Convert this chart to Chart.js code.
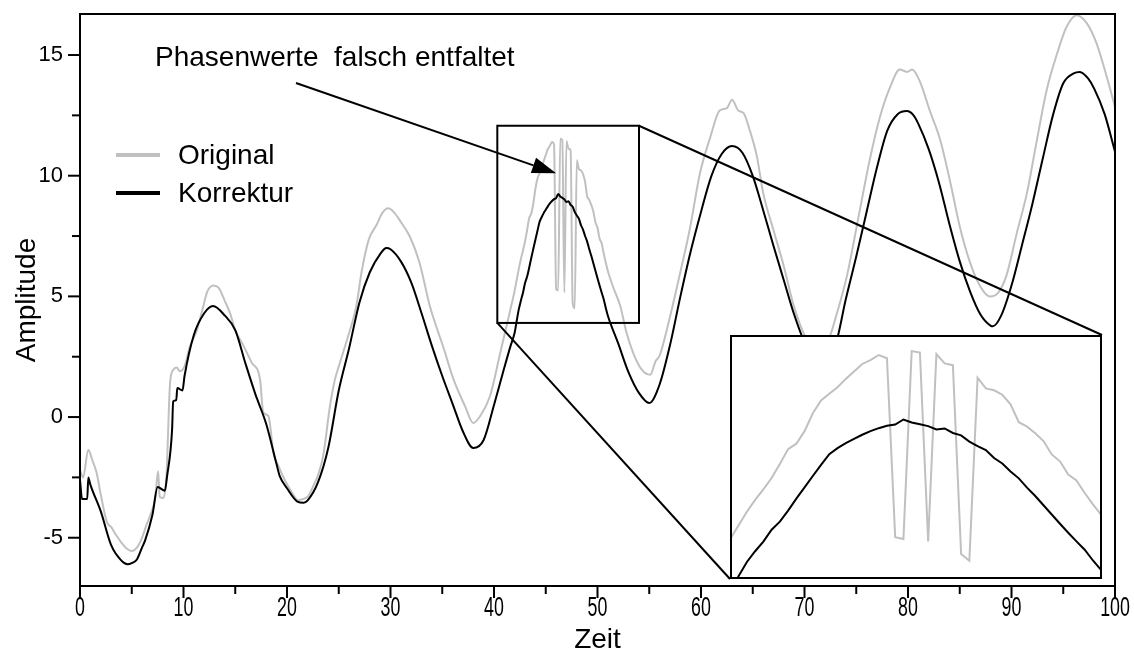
<!DOCTYPE html>
<html>
<head>
<meta charset="utf-8">
<script src="https://cdn.jsdelivr.net/npm/chart.js@4.4.1/dist/chart.umd.min.js"></script>
<style>
  html, body { margin: 0; padding: 0; background: #fff; }
  #wrap { position: relative; width: 1134px; height: 660px; }
  #mainChart { position: absolute; left: 0; top: 0; }
  #insetChart { position: absolute; background: #fff; }
</style>
</head>
<body>
<div id="wrap">
  <canvas id="mainChart" width="1134" height="660"></canvas>
  <canvas id="insetChart" width="372" height="244"></canvas>
</div>
<script>
// Korrektur (black): time / amplitude
const korrekturZeit = [0, 0.2, 0.7, 0.8, 1, 2, 3, 4, 4.6, 5, 5.5, 6, 6.3, 7, 7.5, 8.2, 8.4, 8.9, 9, 9.3, 9.4, 9.9, 10.1, 11, 12, 12.85,
  14, 15, 16, 17, 17.2, 18, 19, 19.3, 20, 21, 21.6, 22, 23, 24, 25, 26, 27, 28, 29, 29.6, 30, 31, 32, 33, 34, 35, 36, 37, 38, 39, 40, 41, 41.6,
  42, 42.2, 42.4, 42.6, 42.8, 43, 43.2, 43.4, 43.6, 43.8, 44, 44.2, 44.4, 44.6, 44.8, 45, 45.2, 45.4, 45.6, 45.8,
  46, 46.2, 46.4, 46.6, 46.8, 47, 47.2, 47.4, 47.6, 47.8, 48, 48.2, 48.4, 48.6, 48.8, 49, 49.2, 49.4, 49.6, 49.8,
  50, 50.2, 50.4, 50.6, 50.8, 51,
  52, 53, 54, 55, 56, 57, 58, 59, 60, 61, 62, 63, 64, 65, 66, 67, 68, 69, 70, 71, 71.5, 72, 73, 74, 75, 76, 77, 78, 79, 79.9, 80.5,
  81, 82, 83, 84, 85, 86, 87, 88, 88.2, 89, 90, 91, 92, 93, 94, 95, 96, 96.6, 97.4, 98, 99, 100];
const korrektur = [-2.6, -3.4, -3.4, -2.5, -2.8, -3.9, -5.3, -5.95, -6.1, -6.05, -5.9, -5.4, -5.1, -4.05, -2.9, -3.05, -2.5, -0.5, 0.65, 0.7, 1.2, 1.1, 1.7, 3.4, 4.3, 4.6,
  4.2, 3.6, 2.2, 0.88, 0.65, -0.3, -1.97, -2.45, -2.95, -3.5, -3.55, -3.45, -2.7, -1.25, 1.1, 2.85, 4.75, 6.0, 6.75, 7.0, 6.95, 6.45, 5.58, 4.3, 2.95, 1.7, 0.55, -0.6, -1.28, -0.95, 0.5, 2.05, 2.95,
  3.5, 4.0, 4.47, 4.83, 5.15, 5.55, 5.82, 6.19, 6.59, 6.97, 7.35, 7.72, 8.08, 8.28, 8.45, 8.59, 8.73, 8.85, 8.95, 9.03,
  9.07, 9.24, 9.14, 9.08, 9.02, 8.91, 8.94, 8.79, 8.71, 8.5, 8.35, 8.22, 7.95, 7.77, 7.5, 7.27, 6.96, 6.68, 6.37, 6.06,
  5.75, 5.45, 5.16, 4.88, 4.52, 4.2,
  3.05, 1.85, 1.0, 0.58, 1.35, 2.97, 4.98, 6.86, 8.5, 9.98, 10.9, 11.23, 10.95, 9.99, 8.58, 7.1, 5.67, 4.25, 3.1, 2.4, 2.3, 2.45, 3.0, 4.9, 6.65, 8.5, 10.34, 11.87, 12.55, 12.68, 12.52,
  12.15, 11.1, 9.7, 8.0, 6.45, 5.2, 4.25, 3.78, 3.76, 4.2, 5.45, 7.1, 8.8, 10.67, 12.5, 13.83, 14.24, 14.3, 14.03, 13.6, 12.55, 11.0];

// Original (grey): time / amplitude
const originalZeit = [0, 0.3, 0.8, 1.2, 1.6, 2, 2.6, 3, 3.5, 4, 4.5, 5, 5.6, 6, 6.4, 6.8, 7.25, 7.55, 7.7, 8.05, 8.35, 8.7, 9, 9.35, 9.65,
  10.1, 10.6, 11.3, 11.8, 12.3, 12.9, 13.4, 14, 14.5, 15, 15.8, 16.6, 17.4, 17.7, 18.2, 18.7, 19.2, 19.6, 20.3, 21.1, 21.5,
  22, 22.6, 23, 23.5, 24.15, 24.6, 25, 25.8, 26.7, 27.2, 27.9, 28.7, 29.2, 29.8, 30.3, 30.9, 31.9, 32.8, 33.8, 35.1, 36.1,
  37.2, 38, 38.6, 39.6, 40.6, 41.5,
  42, 42.2, 42.4, 42.6, 42.8, 43, 43.2, 43.4, 43.6, 43.8, 44, 44.2, 44.4, 44.6, 44.8, 45, 45.2, 45.4, 45.6, 45.8,
  46, 46.2, 46.4, 46.6, 46.8, 47, 47.2, 47.4, 47.6, 47.8, 48, 48.2, 48.4, 48.6, 48.8, 49, 49.2, 49.4, 49.6, 49.8,
  50, 50.2, 50.4, 50.6, 50.8, 51,
  51.5, 52.2, 52.8, 53.5, 54.3, 55.1, 55.6, 56, 57, 58, 58.9, 59.9, 60.9, 61.8, 62.5, 63, 63.6, 64.1, 64.7, 65.4, 66, 67, 68,
  68.9, 70, 71, 72, 72.5, 73, 74.1, 75.4, 76.3, 77.3, 78.3, 79.2, 79.9, 80.4, 81.2, 82.1, 83.1, 84.1, 85, 86, 87, 87.9, 88.7,
  89.5, 90.5, 91.5, 92.4, 93.4, 94.4, 95.3, 96.3, 97.3, 98.2, 99.2, 100];
const original = [-2.2, -2.5, -1.35, -1.8, -2.3, -3.2, -4.35, -4.55, -4.9, -5.2, -5.45, -5.55, -5.35, -5.0, -4.5, -4.05, -3.4, -2.25, -3.3, -3.35, -2.45, 1.4, 1.95, 2.05, 1.9,
  2.1, 2.9, 3.6, 4.4, 5.2, 5.45, 5.35, 4.8, 4.3, 3.6, 2.95, 2.25, 1.55, 0.2, 0.05, -1.5, -2.05, -2.45, -3.0, -3.45, -3.4,
  -3.3, -2.8, -2.4, -1.6, 0.45, 1.5, 2.1, 3.2, 4.6, 6.0, 7.35, 8.0, 8.45, 8.65, 8.5, 8.15, 7.45, 6.4, 4.6, 2.9, 1.55,
  0.45, -0.25, 0.0, 0.85, 2.65, 4.3,
  5.25, 5.7, 6.15, 6.55, 6.9, 7.28, 7.75, 8.25, 8.43, 8.85, 9.45, 9.88, 10.1, 10.32, 10.6, 10.85, 11.1, 11.23, 11.4, 11.29,
  5.3, 5.24, 11.53, 11.48, 5.16, 11.43, 11.12, 11.06, 4.74, 4.51, 10.64, 10.28, 10.22, 10.07, 9.75, 9.15, 9.0, 8.78, 8.52, 8.07,
  7.84, 7.4, 7.2, 6.78, 6.4, 6.05,
  5.4, 4.6, 3.5, 2.6, 1.95, 1.75, 2.3, 2.55, 4.15, 6.0, 7.75, 10.1, 11.6, 12.7, 12.8, 13.15, 12.7, 12.6, 11.9, 10.8, 9.3, 7.75, 6.25,
  4.7, 3.4, 2.9, 3.0, 3.4, 4.1, 5.85, 8.7, 10.65, 12.45, 13.7, 14.4, 14.3, 14.4, 13.85, 12.7, 11.5, 9.7, 7.9, 6.4, 5.4, 5.0, 5.15,
  5.85, 7.6, 9.3, 11.35, 13.55, 15.05, 16.15, 16.65, 16.3, 15.5, 14.1, 12.85];

const serien = ["Original", "Korrektur"];
const hinweis = "Phasenwerte  falsch entfaltet";

// zoomed window: box in the main plot and the range shown by the inset
const lupeZeit = [40.32, 54.01];
const lupeAmplitude = [3.9, 12.07];
const insetZeit = [41.99, 51.02];

const FONT = '"Liberation Sans", Arial, Helvetica, sans-serif';
const GREY = "#c0c0c0";
const inset = { left: 730, top: 335, width: 372, height: 244 };

function toPoints(xs, ys) {
  return xs.map((t, i) => ({ x: t, y: ys[i] }));
}

function makeDatasets(width, smooth) {
  const mode = smooth ? "monotone" : "default";
  return [
    { label: serien[1], data: toPoints(korrekturZeit, korrektur), borderColor: "#000", borderWidth: width, cubicInterpolationMode: mode, order: 0 },
    { label: serien[0], data: toPoints(originalZeit, original), borderColor: GREY, borderWidth: width, cubicInterpolationMode: mode, order: 1 }
  ];
}

const onStep = (v, s) => Math.abs(v / s - Math.round(v / s)) < 1e-6;

function line(ctx, x1, y1, x2, y2) {
  ctx.beginPath();
  ctx.moveTo(x1, y1);
  ctx.lineTo(x2, y2);
  ctx.stroke();
}

// frame, ticks, condensed x labels, legend, arrow note, zoom box
const decorations = {
  id: "decorations",
  afterDatasetsDraw(chart) {
    const { ctx, chartArea: a, scales: { x, y } } = chart;
    ctx.save();
    ctx.strokeStyle = "#000";
    ctx.lineWidth = 2;

    // zoom box and connectors to the inset
    const bx1 = x.getPixelForValue(lupeZeit[0]), bx2 = x.getPixelForValue(lupeZeit[1]);
    const by1 = y.getPixelForValue(lupeAmplitude[1]), by2 = y.getPixelForValue(lupeAmplitude[0]);
    ctx.strokeRect(bx1, by1, bx2 - bx1, by2 - by1);
    line(ctx, bx2, by1, inset.left + inset.width, inset.top);
    line(ctx, bx1, by2, inset.left, inset.top + inset.height);

    // plot frame
    ctx.strokeRect(a.left, a.top, a.right - a.left, a.bottom - a.top);

    // tick marks
    x.ticks.forEach(t => {
      if (!onStep(t.value, 5)) return;
      const px = x.getPixelForValue(t.value);
      line(ctx, px, a.bottom, px, a.bottom + (onStep(t.value, 10) ? 12 : 8));
    });
    y.ticks.forEach(t => {
      if (!onStep(t.value, 2.5)) return;
      const py = y.getPixelForValue(t.value);
      line(ctx, a.left - (onStep(t.value, 5) ? 12 : 8), py, a.left, py);
    });

    // x tick labels, narrow face
    ctx.fillStyle = "#000";
    ctx.font = "27px " + FONT;
    ctx.textAlign = "center";
    ctx.textBaseline = "alphabetic";
    x.ticks.forEach(t => {
      if (!onStep(t.value, 10)) return;
      ctx.save();
      ctx.translate(x.getPixelForValue(t.value), a.bottom + 30);
      ctx.scale(0.66, 1);
      ctx.fillText(String(t.value), 0, 0);
      ctx.restore();
    });

    // legend
    ctx.font = "28px " + FONT;
    ctx.textAlign = "left";
    ctx.textBaseline = "middle";
    ctx.lineWidth = 4;
    [[serien[0], GREY, 141], [serien[1], "#000", 179]].forEach(([name, col, dy]) => {
      ctx.strokeStyle = col;
      line(ctx, a.left + 36, a.top + dy, a.left + 80, a.top + dy);
      ctx.fillText(name, a.left + 98, a.top + dy + 1);
    });

    // annotation with arrow
    ctx.textBaseline = "alphabetic";
    ctx.fillText(hinweis, x.getPixelForValue(7.25), y.getPixelForValue(14.54));
    const sx = x.getPixelForValue(20.87), sy = y.getPixelForValue(13.84);
    const ex = x.getPixelForValue(46.0), ey = y.getPixelForValue(10.1);
    const ang = Math.atan2(ey - sy, ex - sx);
    const len = 24, half = 8;
    const hx = ex - len * Math.cos(ang), hy = ey - len * Math.sin(ang);
    ctx.strokeStyle = "#000";
    ctx.lineWidth = 2;
    line(ctx, sx, sy, hx, hy);
    ctx.beginPath();
    ctx.moveTo(ex, ey);
    ctx.lineTo(hx + half * Math.sin(ang), hy - half * Math.cos(ang));
    ctx.lineTo(hx - half * Math.sin(ang), hy + half * Math.cos(ang));
    ctx.closePath();
    ctx.fill();
    ctx.restore();
  }
};

new Chart(document.getElementById("mainChart"), {
  type: "line",
  data: { datasets: makeDatasets(2, true) },
  options: {
    responsive: false,
    animation: false,
    devicePixelRatio: 1,
    layout: { padding: { top: 14, right: 19, left: 0, bottom: 0 } },
    elements: { point: { radius: 0 }, line: { tension: 0 } },
    plugins: { legend: { display: false }, tooltip: { enabled: false } },
    scales: {
      x: {
        type: "linear", min: 0, max: 100,
        grid: { display: false }, border: { display: false },
        ticks: { stepSize: 5, display: false },
        title: { display: true, text: "Zeit", color: "#000", font: { family: FONT, size: 28 }, padding: { top: 0, bottom: 3 } },
        afterFit: s => { s.height = 74; s.paddingLeft = 0; s.paddingRight = 0; }
      },
      y: {
        min: -7, max: 16.7,
        grid: { display: false }, border: { display: false },
        ticks: {
          stepSize: 2.5, padding: 9, color: "#000", font: { family: FONT, size: 22 },
          callback: v => (onStep(v, 5) ? String(v) : "")
        },
        title: { display: true, text: "Amplitude", color: "#000", font: { family: FONT, size: 28 }, padding: { top: 10, bottom: 0 } },
        afterFit: s => { s.width = 80; s.paddingTop = 0; s.paddingBottom = 0; }
      }
    }
  },
  plugins: [decorations]
});

// inset: enlarged view of the unwrapping errors
const insetCanvas = document.getElementById("insetChart");
insetCanvas.style.left = inset.left + "px";
insetCanvas.style.top = inset.top + "px";

new Chart(insetCanvas, {
  type: "line",
  data: { datasets: makeDatasets(2, false) },
  options: {
    responsive: false,
    animation: false,
    devicePixelRatio: 1,
    layout: { padding: 0 },
    elements: { point: { radius: 0 }, line: { tension: 0 } },
    plugins: { legend: { display: false }, tooltip: { enabled: false } },
    scales: {
      x: { type: "linear", min: insetZeit[0], max: insetZeit[1], display: false },
      y: { min: lupeAmplitude[0], max: lupeAmplitude[1], display: false }
    }
  },
  plugins: [{
    id: "insetFrame",
    afterDraw(chart) {
      const { ctx, width, height } = chart;
      ctx.save();
      ctx.strokeStyle = "#000";
      ctx.lineWidth = 2;
      ctx.strokeRect(1, 1, width - 2, height - 2);
      ctx.restore();
    }
  }]
});
</script>
</body>
</html>
